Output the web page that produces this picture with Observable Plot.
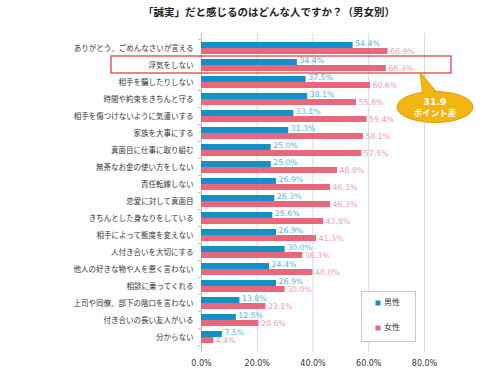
<!DOCTYPE html>
<html><head><meta charset="utf-8">
<script src="https://cdn.jsdelivr.net/npm/d3@7"></script>
<script src="https://cdn.jsdelivr.net/npm/@observablehq/plot@0.6"></script>
<style>
body{margin:0;background:#fff;font-family:"Noto Sans CJK JP",sans-serif;}
#title{height:24px;line-height:24px;width:500px;text-align:center;font-size:10.5px;font-weight:bold;color:#222;padding-left:38px;box-sizing:border-box;}
#chart svg{display:block;}
</style></head>
<body>
<div id="title">「誠実」だと感じるのはどんな人ですか？（男女別）</div>
<div id="chart"></div>
<script>
const categories = ["ありがとう、ごめんなさいが言える","浮気をしない","相手を騙したりしない","時間や約束をきちんと守る","相手を傷つけないように気遣いする","家族を大事にする","真面目に仕事に取り組む","無茶なお金の使い方をしない","責任転嫁しない","恋愛に対して真面目","きちんとした身なりをしている","相手によって態度を変えない","人付き合いを大切にする","他人の好きな物や人を悪く言わない","相談に乗ってくれる","上司や同僚、部下の陰口を言わない","付き合いの長い友人がいる","分からない"];
const male = [54.4,34.4,37.5,38.1,33.1,31.3,25.0,25.0,26.9,26.3,25.6,26.9,30.0,24.4,26.9,13.8,12.5,7.5];
const female = [66.9,66.3,60.6,55.6,59.4,58.1,57.5,48.8,46.3,46.3,43.8,41.3,36.3,40.0,30.0,23.1,20.6,4.4];
const series = ["男性","女性"];
const xTicks = [0,20,40,60,80];
const highlight = "浮気をしない";
const calloutLines = ["31.9","ポイント差"];

const colors = {"男性":"#1490c8","女性":"#e8677b"};
const labelColors = {"男性":"#5ab4e0","女性":"#f19aaa"};

const maleData = categories.map((c,i)=>({cat:c, v:male[i]}));
const femaleData = categories.map((c,i)=>({cat:c, v:female[i]}));

const W=500,H=350,ML=201,MR=76,MT=9,MB=22;
const plot = Plot.plot({
  width:W, height:H, marginLeft:ML, marginRight:MR, marginTop:MT, marginBottom:MB,
  style:{fontFamily:"'Noto Sans CJK JP',sans-serif", background:"transparent"},
  x:{domain:[0,80], ticks:xTicks, tickFormat:d=>d.toFixed(1)+"%", tickSize:0, tickPadding:8, label:null},
  y:{domain:categories, paddingInner:0.32, paddingOuter:0.16, tickSize:0, tickPadding:8, label:null},
  marks:[
    Plot.ruleX(xTicks.filter(d=>d>0), {stroke:"#d9d9d9", strokeWidth:1}),
    Plot.ruleX([0], {stroke:"#bfbfbf", strokeWidth:1}),
    Plot.barX(maleData, {y:"cat", x:"v", fill:colors["男性"], insetBottom:6.02}),
    Plot.barX(femaleData, {y:"cat", x:"v", fill:colors["女性"], insetTop:6.02}),
    Plot.text(maleData, {y:"cat", x:"v", text:d=>d.v.toFixed(1)+"%", textAnchor:"start", dx:2, dy:-5, fill:labelColors["男性"], fontSize:7.8, fontFamily:"DejaVu Sans"}),
    Plot.text(femaleData, {y:"cat", x:"v", text:d=>d.v.toFixed(1)+"%", textAnchor:"start", dx:2, dy:3, fill:labelColors["女性"], fontSize:7.8, fontFamily:"DejaVu Sans"})
  ]
});
document.getElementById("chart").appendChild(plot);

const svg = d3.select(plot);
svg.selectAll("g[aria-label='y-axis tick label'] text, g[aria-label='y-axis'] text").attr("font-size",7.5).attr("fill","#333");
svg.selectAll("g[aria-label='x-axis tick label'] text, g[aria-label='x-axis'] text").attr("font-size",8).attr("fill","#333").attr("font-family","DejaVu Sans");

const xs = plot.scale("x"), ys = plot.scale("y");
const bw = ys.bandwidth;
const x0 = xs.apply(0), x80 = xs.apply(80);

// small tick marks on the category axis between groups
const step = ys.step || (bw/0.68);
categories.forEach((c,i)=>{
  const yb = ys.apply(c) - (step-bw)/2;
  svg.append("line").attr("x1",x0-3).attr("x2",x0).attr("y1",yb).attr("y2",yb).attr("stroke","#bfbfbf");
  if(i===categories.length-1){
    const ye = ys.apply(c)+bw+(step-bw)/2;
    svg.append("line").attr("x1",x0-3).attr("x2",x0).attr("y1",ye).attr("y2",ye).attr("stroke","#bfbfbf");
  }
});

const hy = ys.apply(highlight);
const rTop = hy-3, rBot = hy+bw+2;
svg.append("rect").attr("x",ML-90).attr("y",rTop).attr("width",(x80+27)-(ML-90)).attr("height",rBot-rTop)
  .attr("fill","none").attr("stroke","#e8404a").attr("stroke-width",1.3);

// callout
const cx = x80+11, cy = rBot+34, rx=38, ry=15.5;
const tipX = x80-4, tipY = rBot-1;
const fillC="#f3b512", strokeC="#d69e08";
svg.append("path").attr("d",`M${tipX},${tipY} L${cx-12},${cy-10} L${cx+3},${cy-13} Z`).attr("fill",fillC).attr("stroke",strokeC).attr("stroke-width",1);
svg.append("ellipse").attr("cx",cx).attr("cy",cy).attr("rx",rx).attr("ry",ry).attr("fill",fillC).attr("stroke",strokeC).attr("stroke-width",1);
svg.append("path").attr("d",`M${tipX},${tipY+1.5} L${cx-11},${cy-8} L${cx+2},${cy-11} Z`).attr("fill",fillC);
svg.append("text").attr("x",cx).attr("y",cy-5).attr("text-anchor","middle").attr("dominant-baseline","middle")
  .attr("fill","#fff").attr("font-weight","bold").attr("font-size",9.5).attr("font-family","DejaVu Sans").text(calloutLines[0]);
svg.append("text").attr("x",cx).attr("y",cy+7).attr("text-anchor","middle").attr("dominant-baseline","middle")
  .attr("fill","#fff").attr("font-weight","bold").attr("font-size",8.5).text(calloutLines[1]);

// legend
const lg = svg.append("g");
lg.append("rect").attr("x",361.5).attr("y",267.5).attr("width",54).attr("height",50).attr("fill","#fff").attr("stroke","#c8c8c8");
series.forEach((s,i)=>{
  const yy = 279 + i*25;
  lg.append("rect").attr("x",375.5).attr("y",yy-2.5).attr("width",5).attr("height",5).attr("fill",colors[s]);
  lg.append("text").attr("x",384).attr("y",yy).attr("text-anchor","start").attr("dominant-baseline","middle").attr("font-size",8).attr("fill","#333").text(s);
});
</script>
</body></html>
